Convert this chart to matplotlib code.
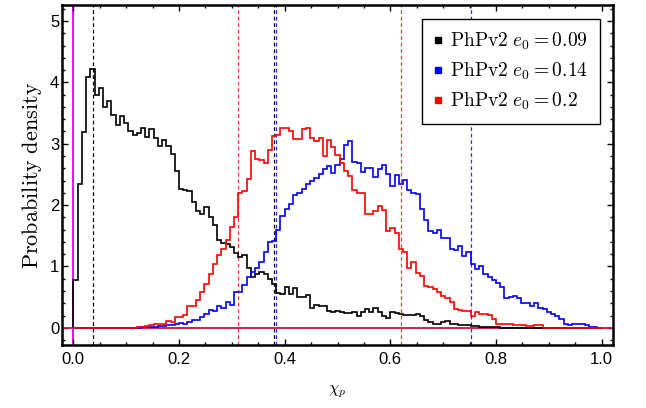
import numpy as np
import matplotlib
matplotlib.use("Agg")
import matplotlib.pyplot as plt
from matplotlib.ticker import MultipleLocator, FormatStrFormatter
from matplotlib.lines import Line2D

plt.rcParams['mathtext.fontset'] = 'cm'
plt.rcParams['font.family'] = ['Liberation Sans', 'DejaVu Sans']

# histogram bins (width 0.008 on [0, 1])
n_bins = 125
bin_edges = np.linspace(0.0, 1.0, n_bins + 1)

black_e009 = [0.78, 2.34, 3.19, 4.09, 4.21, 3.79, 3.90, 3.60, 3.70, 3.46,
              3.30, 3.45, 3.34, 3.20, 3.14, 3.17, 3.25, 3.11, 3.24, 3.10,
              2.97, 3.06, 2.96, 2.84, 2.55, 2.27, 2.24, 2.23, 2.05, 1.90,
              1.86, 1.97, 1.80, 1.67, 1.43, 1.39, 1.36, 1.32, 1.22, 1.15,
              1.19, 0.98, 0.83, 0.87, 0.91, 0.87, 0.80, 0.72, 0.56, 0.55,
              0.67, 0.55, 0.65, 0.51, 0.51, 0.53, 0.32, 0.37, 0.35, 0.35,
              0.28, 0.26, 0.28, 0.26, 0.24, 0.24, 0.26, 0.20, 0.26, 0.31,
              0.26, 0.32, 0.26, 0.19, 0.16, 0.26, 0.24, 0.22, 0.21, 0.21,
              0.21, 0.22, 0.19, 0.13, 0.09, 0.07, 0.07, 0.10, 0.11, 0.07,
              0.06, 0.05, 0.05, 0.04, 0.03, 0.03, 0.02, 0.02, 0.02, 0.01,
              0.01, 0.0, 0.0, 0.0, 0.0, 0.0, 0.0, 0.0, 0.0, 0.0,
              0.0, 0.0, 0.0, 0.0, 0.0, 0.0, 0.0, 0.0, 0.0, 0.0,
              0.0, 0.0, 0.0, 0.0, 0.0]

blue_e014 = [0.0, 0.0, 0.0, 0.0, 0.0, 0.0, 0.0, 0.0, 0.0, 0.0,
             0.0, 0.0, 0.0, 0.0, 0.0, 0.0, 0.01, 0.01, 0.02, 0.02,
             0.03, 0.03, 0.04, 0.05, 0.06, 0.08, 0.06, 0.10, 0.13, 0.12,
             0.18, 0.22, 0.29, 0.28, 0.35, 0.33, 0.42, 0.37, 0.59, 0.58,
             0.70, 0.83, 0.91, 0.97, 1.07, 1.24, 1.40, 1.42, 1.59, 1.83,
             1.94, 2.01, 2.16, 2.20, 2.26, 2.34, 2.40, 2.44, 2.50, 2.58,
             2.63, 2.53, 2.65, 2.75, 2.98, 3.05, 2.70, 2.69, 2.54, 2.60,
             2.60, 2.46, 2.58, 2.65, 2.50, 2.31, 2.49, 2.35, 2.41, 2.25,
             2.20, 2.18, 1.94, 1.75, 1.57, 1.54, 1.60, 1.46, 1.46, 1.28,
             1.27, 1.33, 1.17, 1.24, 1.04, 0.96, 1.00, 0.88, 0.82, 0.78,
             0.73, 0.66, 0.48, 0.50, 0.52, 0.48, 0.40, 0.40, 0.35, 0.40,
             0.33, 0.30, 0.25, 0.22, 0.19, 0.14, 0.06, 0.05, 0.07, 0.06,
             0.06, 0.05, 0.02, 0.01, 0.005]

red_e02 = [0.0, 0.0, 0.0, 0.0, 0.0, 0.0, 0.0, 0.0, 0.0, 0.0,
           0.0, 0.0, 0.0, 0.0, 0.0, 0.01, 0.02, 0.03, 0.05, 0.06,
           0.07, 0.07, 0.11, 0.09, 0.18, 0.17, 0.21, 0.35, 0.36, 0.45,
           0.59, 0.72, 0.87, 1.04, 1.18, 1.29, 1.43, 1.64, 1.81, 2.19,
           2.23, 2.42, 2.88, 2.75, 2.74, 2.68, 2.90, 3.12, 3.14, 3.26,
           3.25, 3.21, 3.08, 3.08, 3.24, 3.26, 3.10, 3.05, 3.10, 2.80,
           3.06, 2.94, 2.81, 2.68, 2.56, 2.47, 2.24, 2.20, 2.19, 1.86,
           1.86, 1.90, 1.99, 1.92, 1.58, 1.62, 1.55, 1.29, 1.24, 0.97,
           1.07, 0.89, 0.84, 0.68, 0.67, 0.64, 0.59, 0.52, 0.49, 0.42,
           0.30, 0.29, 0.28, 0.28, 0.20, 0.26, 0.23, 0.22, 0.21, 0.14,
           0.07, 0.06, 0.06, 0.06, 0.05, 0.045, 0.04, 0.03, 0.03, 0.04,
           0.04, 0.0, 0.0, 0.0, 0.0, 0.0, 0.0, 0.0, 0.0, 0.0,
           0.0, 0.0, 0.0, 0.0, 0.0]

series_labels = [r'$\mathrm{PhPv2}\ e_0=0.09$',
                 r'$\mathrm{PhPv2}\ e_0=0.14$',
                 r'$\mathrm{PhPv2}\ e_0=0.2$']
series_colors = ['#000000', '#0000ff', '#ff0000']

# 90% credible interval bounds
interval_black = [0.037, 0.379]
interval_blue = [0.384, 0.752]
interval_red = [0.311, 0.621]
reference_value = [0.0]

xticks = [0.0, 0.2, 0.4, 0.6, 0.8, 1.0]
yticks = [0, 1, 2, 3, 4, 5]

fig = plt.figure(figsize=(6.46, 4.08), dpi=100)
ax = fig.add_axes([0.096, 0.1544, 0.853, 0.8333])

for v in reference_value:
    ax.axvline(v, color='#ff00ff', lw=1.4, zorder=1)
for vals, col in [(interval_black, '#000000'), (interval_red, '#ee3b3b'),
                  (interval_blue, '#2a2aff')]:
    for v in vals:
        ax.axvline(v, color=col, lw=0.9, ls=(0, (3, 2.2)), zorder=1)

ax.axhline(0, color='#c8143c', lw=1.3, zorder=2)

for vals, col in zip([black_e009, blue_e014, red_e02], series_colors):
    ax.stairs(vals, bin_edges, color=col, lw=1.2, baseline=0, zorder=3)

ax.set_xlim(-0.0215, 1.0215)
ax.set_ylim(-0.28, 5.26)
ax.set_xticks(xticks)
ax.set_yticks(yticks)
ax.xaxis.set_major_formatter(FormatStrFormatter('%.1f'))
ax.xaxis.set_minor_locator(MultipleLocator(0.05))
ax.yaxis.set_minor_locator(MultipleLocator(0.2))
ax.tick_params(which='both', direction='in', top=True, right=True,
               labelsize=12, width=1.0)
ax.tick_params(which='major', length=4.5)
ax.tick_params(which='minor', length=2.5)
ax.tick_params(axis='x', pad=5)
ax.tick_params(axis='y', pad=2)
for s in ax.spines.values():
    s.set_linewidth(1.8)

ax.set_ylabel(r'$\mathrm{Probability\ density}$', fontsize=16, labelpad=4)
ax.set_xlabel(r'$\chi_p$', fontsize=12, labelpad=12)

handles = [Line2D([], [], ls='none', marker='s', markersize=5,
                  markerfacecolor=c, markeredgecolor=c) for c in series_colors]
leg = ax.legend(handles, series_labels, loc='upper right',
                bbox_to_anchor=(0.976, 0.959), borderaxespad=0,
                fontsize=14, frameon=True,
                fancybox=False, edgecolor='black', framealpha=1,
                handlelength=0.4, handletextpad=0.45, borderpad=0.6,
                labelspacing=0.45)
leg.get_frame().set_linewidth(1.0)

fig.savefig('out.png', dpi=100)
